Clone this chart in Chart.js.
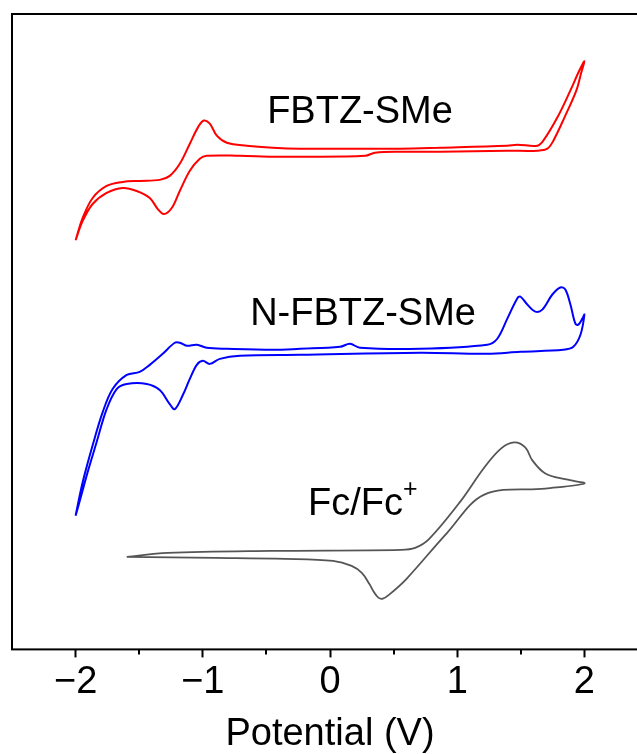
<!DOCTYPE html>
<html>
<head>
<meta charset="utf-8">
<script src="https://cdn.jsdelivr.net/npm/chart.js@4.4.0/dist/chart.umd.min.js"></script>
<style>
  html, body { margin: 0; padding: 0; background: #fff; overflow: hidden; }
  #wrap { width: 637px; height: 754px; overflow: hidden; position: relative; }
  canvas { position: absolute; left: 0; top: 0; }
</style>
</head>
<body>
<div id="wrap"><canvas id="c" width="660" height="754"></canvas></div>
<script>
// ---- data (Potential in V, current in arbitrary units) ----
const xTicks = [-2, -1, 0, 1, 2];
const minorTicks = [-1.5, -0.5, 0.5, 1.5];

// FBTZ-SMe (red): forward then reverse sweep
const fbtzV = [-2.00,-1.945,-1.866,-1.756,-1.63,-1.496,-1.339,-1.26,-1.181,-1.102,-1.039,-0.992,-0.945,-0.89,-0.811,-0.654,-0.449,-0.236,0.157,0.551,0.866,1.394,1.472,1.63,1.677,1.787,1.89,1.961,2.00,
  1.976,1.937,1.843,1.756,1.709,1.63,1.394,0.866,0.551,0.354,0.276,-0.236,-0.449,-0.709,-0.969,-1.024,-1.102,-1.181,-1.244,-1.307,-1.354,-1.417,-1.52,-1.63,-1.756,-1.866,-1.945,-2.00];
const fbtzI = [40.7,42.9,44.9,46.1,46.5,46.6,46.7,47.1,48.3,50.3,51.9,52.6,52.3,51.1,50.4,50.1,49.9,49.8,49.8,49.8,49.9,50.1,50.2,50.1,50.6,52.9,55.6,57.6,58.5,
  57.4,55.6,52.9,50.6,49.8,49.6,49.6,49.5,49.5,49.4,49.1,49.0,49.0,49.1,49.1,48.8,47.6,45.6,43.9,43.3,43.8,44.9,45.6,45.9,45.4,44.3,42.6,40.7];

// N-FBTZ-SMe (blue)
const nfbtzV = [-2.0,-1.945,-1.866,-1.787,-1.709,-1.598,-1.496,-1.417,-1.315,-1.22,-1.181,-1.126,-1.047,-0.969,-0.811,-0.449,-0.236,0.079,0.157,0.236,0.709,1.236,1.315,1.394,1.472,1.496,1.551,1.614,1.669,1.748,1.811,1.85,1.89,1.929,1.953,1.984,2.0,
  1.969,1.913,1.835,1.496,1.236,0.709,-0.236,-0.709,-0.866,-0.945,-1.0,-1.047,-1.102,-1.157,-1.22,-1.26,-1.339,-1.441,-1.598,-1.677,-1.756,-1.835,-1.906,-1.96,-2.0];
const nfbtzI = [13.3,16.6,20.3,23.6,25.9,27.3,27.6,28.3,29.4,30.5,30.5,30.2,30.3,30.0,29.9,29.8,29.9,30.1,30.4,30.0,29.9,30.3,30.9,32.9,34.9,35.1,34.3,33.6,33.8,35.3,36.0,35.8,34.3,32.4,32.3,32.9,33.3,
  31.3,30.1,29.8,29.6,29.4,29.5,29.3,29.2,28.9,28.4,28.7,28.3,26.9,25.3,23.9,24.4,25.8,26.4,26.4,25.9,23.9,20.6,17.6,15.1,13.3];

// Fc/Fc+ (gray)
const fcV = [-1.598,-1.276,-0.465,0.559,0.669,0.78,1.024,1.213,1.346,1.449,1.535,1.591,1.693,1.858,2.0,
  1.693,1.213,0.921,0.6,0.47,0.415,0.38,0.345,0.31,0.25,0.17,0.024,-0.354,-0.9,-1.598];
const fcI = [9.2,9.6,9.8,9.9,10.1,11.0,14.7,18.1,20.0,20.6,20.1,18.8,17.5,16.9,16.5,
  16.0,15.4,11.6,7.0,5.5,5.05,5.15,5.7,6.5,7.6,8.3,8.8,9.0,9.1,9.2];

const seriesNames = ['FBTZ-SMe', 'N-FBTZ-SMe', 'Fc/Fc'];

function pts(xs, ys) { return xs.map((x, i) => ({ x: x, y: ys[i] })); }

const FONT = '"Liberation Sans", Arial, Helvetica, sans-serif';

const annotations = {
  id: 'annotations',
  afterDraw(chart) {
    const { ctx, chartArea: a, scales: { x, y } } = chart;
    ctx.save();
    // frame
    ctx.strokeStyle = '#000';
    ctx.lineWidth = 2;
    ctx.strokeRect(a.left, a.top, a.right - a.left, a.bottom - a.top);
    // minor ticks
    minorTicks.forEach(v => {
      const px = Math.round(x.getPixelForValue(v));
      ctx.beginPath();
      ctx.moveTo(px, a.bottom);
      ctx.lineTo(px, a.bottom + 5);
      ctx.stroke();
    });
    // labels
    ctx.fillStyle = '#000';
    ctx.font = '38px ' + FONT;
    ctx.textBaseline = 'alphabetic';
    ctx.textAlign = 'center';
    ctx.fillText(seriesNames[0], x.getPixelForValue(0.236), y.getPixelForValue(52.4));
    ctx.fillText(seriesNames[1], x.getPixelForValue(0.26), y.getPixelForValue(32.3));
    ctx.textAlign = 'left';
    const fx = x.getPixelForValue(-0.173), fy = y.getPixelForValue(13.4);
    ctx.fillText(seriesNames[2], fx, fy);
    const w = ctx.measureText(seriesNames[2]).width;
    ctx.font = '25px ' + FONT;
    ctx.fillText('+', fx + w, fy - 18);
    ctx.restore();
  }
};

new Chart(document.getElementById('c'), {
  type: 'scatter',
  data: {
    datasets: [
      { label: seriesNames[0], data: pts(fbtzV, fbtzI), borderColor: '#ff0000', borderWidth: 2 },
      { label: seriesNames[1], data: pts(nfbtzV, nfbtzI), borderColor: '#0000ff', borderWidth: 2 },
      { label: 'Fc/Fc+', data: pts(fcV, fcI), borderColor: '#555555', borderWidth: 1.8 }
    ].map(d => Object.assign(d, { showLine: true, pointRadius: 0, tension: 0.35, fill: false }))
  },
  plugins: [annotations],
  options: {
    responsive: false,
    animation: false,
    layout: { padding: { left: 12, top: 14, right: 12, bottom: 0 } },
    plugins: { legend: { display: false }, tooltip: { enabled: false } },
    scales: {
      x: {
        type: 'linear',
        min: -2.5, max: 2.5,
        afterBuildTicks: s => { s.ticks = xTicks.map(v => ({ value: v })); },
        border: { display: false },
        grid: { drawOnChartArea: false, drawTicks: true, tickLength: 8, tickWidth: 2, tickColor: '#000' },
        ticks: {
          color: '#000', padding: 2,
          font: { family: FONT, size: 38 },
          maxRotation: 0, autoSkip: false,
          callback: v => (v < 0 ? '\u2212' + Math.abs(v) : String(v))
        },
        title: { display: true, text: 'Potential (V)', color: '#000', font: { family: FONT, size: 38, lineHeight: 1.0 }, padding: { top: 9, bottom: 0 } }
      },
      y: {
        display: false,
        min: 0, max: 63.2
      }
    }
  }
});
</script>
</body>
</html>
